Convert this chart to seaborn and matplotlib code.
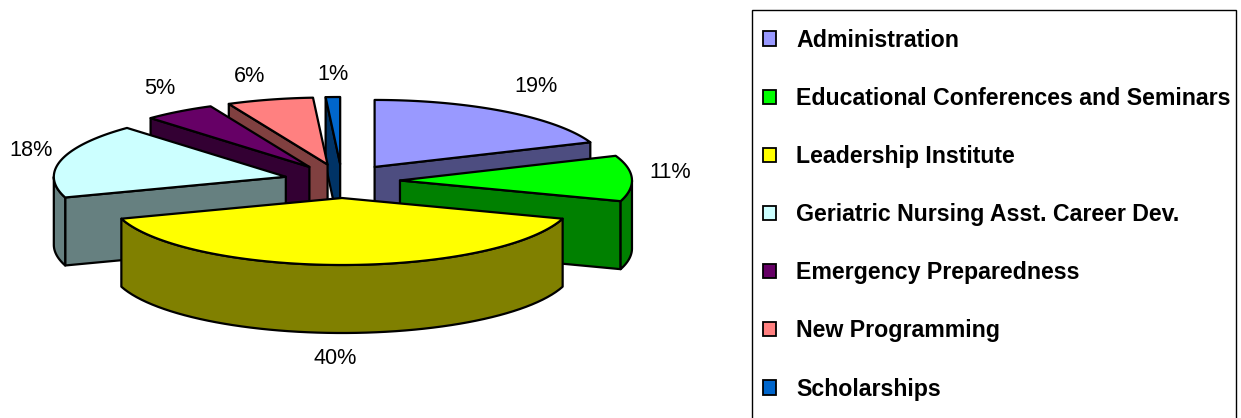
import numpy as np
import matplotlib
matplotlib.use("Agg")
import matplotlib.pyplot as plt
from matplotlib.patches import Patch, Rectangle
import seaborn as sns

categories = ["Administration", "Educational Conferences and Seminars", "Leadership Institute",
              "Geriatric Nursing Asst. Career Dev.", "Emergency Preparedness", "New Programming", "Scholarships"]
shares = [19, 11, 40, 18, 5, 6, 1]
top_colors = ["#9999FF", "#00FF00", "#FFFF00", "#CCFFFF", "#660066", "#FF8080", "#0066CC"]

# layout (pixels)
CX, CY, RX, RY = 342, 181, 232, 67
EX, EY = 58, 17
DEPTH = 68
LW = 1.6
label_xy = [(536, 87), (670, 173), (335, 359), (31, 150), (160, 88), (250, 76), (333, 74)]
draw_order = [6, 5, 4, 0, 3, 1, 2]

sns.set_theme(style="white")
plt.rcParams["font.family"] = ["Liberation Sans", "DejaVu Sans"]
palette = sns.color_palette(top_colors)

fig = plt.figure(figsize=(12.41, 4.18), dpi=100)
ax = fig.add_axes([0, 0, 1, 1])
ax.set_xlim(0, 1241)
ax.set_ylim(418, 0)
ax.axis("off")

edges = np.cumsum([0] + shares) / sum(shares) * 2 * np.pi


def rim(ox, oy, t):
    return ox + RX * np.sin(t), oy - RY * np.cos(t)


def face(xs, ys, color, z):
    ax.fill(xs, ys, facecolor=color, edgecolor="black", linewidth=LW, joinstyle="round", zorder=z)


for rank, i in enumerate(draw_order):
    t0, t1 = edges[i], edges[i + 1]
    mid = (t0 + t1) / 2
    ox, oy = CX + EX * np.sin(mid), CY - EY * np.cos(mid)
    top = palette[i]
    side = tuple(c * 0.5 for c in top)
    z = 2 + rank

    # radial cut faces that look toward the viewer
    for t in (t0, t1):
        ex, ey = rim(ox, oy, t)
        faces_viewer = (t == t1 and np.sin(t) > 0) or (t == t0 and np.sin(t) < 0)
        if faces_viewer and (t1 - t0) < np.pi * 0.5:
            face([ox, ex, ex, ox], [oy, ey, ey + DEPTH, oy + DEPTH], side, z)

    # outer wall: the near half of the rim
    a, b = max(t0, np.pi / 2), min(t1, 3 * np.pi / 2)
    if a < b:
        ts = np.linspace(a, b, 60)
        rx, ry = rim(ox, oy, ts)
        face(np.r_[rx, rx[::-1]], np.r_[ry, ry[::-1] + DEPTH], side, z)

    # top surface
    ts = np.linspace(t0, t1, 80)
    rx, ry = rim(ox, oy, ts)
    face(np.r_[ox, rx], np.r_[oy, ry], top, z)

for s, (x, y) in zip(shares, label_xy):
    ax.text(x, y, f"{s}%", ha="center", va="center", fontsize=15.6, color="black", zorder=20)

ax.add_patch(Rectangle((752, 10), 484, 420, facecolor="white", edgecolor="black", linewidth=1.0, zorder=1))
handles = [Patch(facecolor=c, edgecolor="black", linewidth=1.3, label=n) for c, n in zip(palette, categories)]
leg = ax.legend(handles=handles, loc="upper left", bbox_to_anchor=(744 / 1241, 1 - 10 / 418),
                bbox_transform=ax.transAxes, frameon=False, fontsize=16.65, borderpad=0.81, borderaxespad=0,
                handlelength=0.57, handleheight=0.57, handletextpad=0.87, labelspacing=1.52)
for t in leg.get_texts():
    t.set_fontweight("bold")
    t.set_color("black")
leg.set_zorder(21)

fig.savefig("out.png", dpi=100, facecolor="white")
